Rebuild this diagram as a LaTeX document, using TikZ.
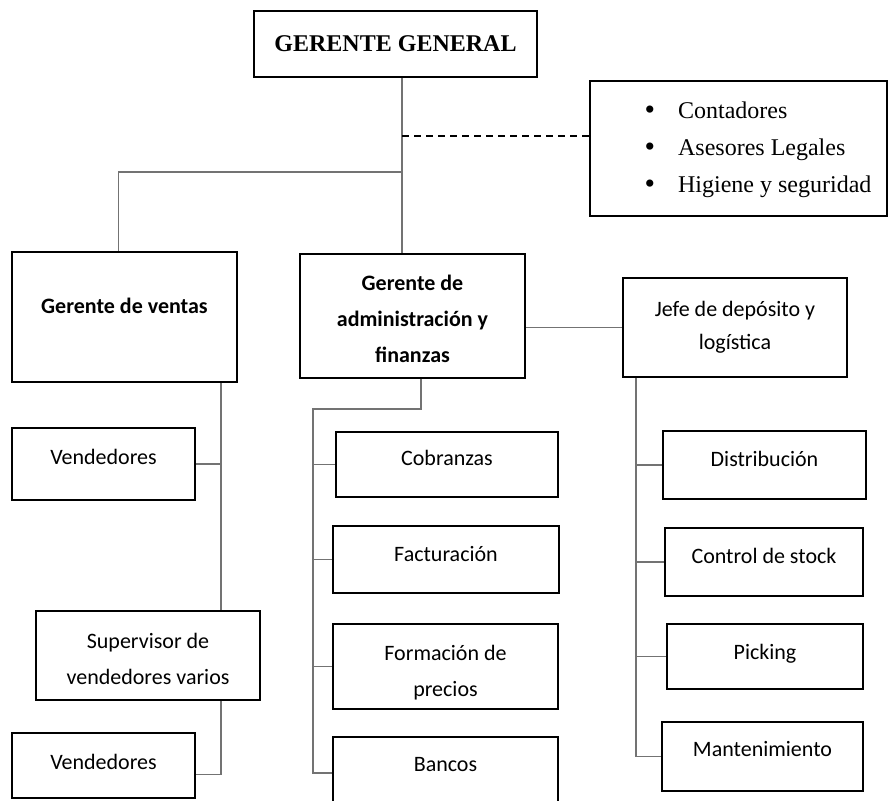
\documentclass[tikz,border=0pt]{standalone}
\usepackage{fontspec}
\setmainfont{Carlito}
\newfontfamily\timesfont{Liberation Serif}
\usetikzlibrary{calc}

\tikzset{
  unit/.style={draw, line width=1.5pt, align=center, inner sep=0pt, font=\fontsize{22}{36}\selectfont},
  head/.style={unit, font=\fontsize{22}{36}\selectfont\bfseries},
  lift/.style={text height=15pt, text depth=#1},
  link/.style={draw=black!55, line width=1.2pt},
}
\newcommand{\bigdot}{{\fontsize{30}{37}\selectfont\raisebox{-1pt}{\textbullet}}}

\begin{document}
\begin{tikzpicture}[x=1pt,y=-1pt]
  \clip (0,0) rectangle (890,800);
  % direccion
  \node[unit, minimum width=283, minimum height=66, font=\timesfont\fontsize{24}{30}\selectfont\bfseries] (gg) at (395.5,44) {GERENTE GENERAL};
  \node[draw, line width=1.5pt, inner sep=0pt, minimum width=297, minimum height=135, font=\timesfont\fontsize{24}{37}\selectfont] (staff) at (738.5,148.5)
    {\hspace*{39pt}\begin{tabular}{@{}c@{\hspace{23pt}}l@{}}\bigdot&Contadores\\\bigdot&Asesores Legales\\\bigdot&Higiene y seguridad\end{tabular}};
  \node[head, lift=23pt, minimum width=225, minimum height=130] (gv) at (124.5,317) {Gerente de ventas};
  \node[head, minimum width=225, minimum height=124] (ga) at (412.5,316) {\rule{0pt}{22pt}Gerente de\\administración y\\finanzas};
  \node[unit, minimum width=224, minimum height=99, font=\fontsize{22}{33}\selectfont] (jefe) at (735,327.5) {Jefe de depósito y\\logística};
  % ventas
  \node[unit, lift=15pt, minimum width=183, minimum height=72] (v1) at (103.5,464) {Vendedores};
  \node[unit, minimum width=224, minimum height=89] (sup) at (148,655.5) {\rule{0pt}{22pt}Supervisor de\\vendedores varios};
  \node[unit, lift=8pt, minimum width=183, minimum height=65] (v2) at (103.5,765.5) {Vendedores};
  % administracion
  \node[unit, lift=14pt, minimum width=222, minimum height=65] (cob) at (447,464.5) {Cobranzas};
  \node[unit, lift=12pt, minimum width=226, minimum height=67] (fac) at (446,559.5) {Facturación};
  \node[unit, minimum width=225, minimum height=85] (for) at (445.5,666.5) {\rule{0pt}{28pt}Formación de\\precios};
  \node[unit, lift=16pt, minimum width=225, minimum height=69] (ban) at (445.5,771.5) {Bancos};
  % deposito
  \node[unit, lift=13pt, minimum width=203, minimum height=68] (dist) at (764.5,465) {Distribución};
  \node[unit, lift=13pt, minimum width=198, minimum height=68] (ctrl) at (764,562) {Control de stock};
  \node[unit, lift=10pt, minimum width=196, minimum height=65] (pick) at (765,656.5) {Picking};
  \node[unit, lift=16pt, minimum width=201, minimum height=69] (mant) at (762.5,756.5) {Mantenimiento};

  \coordinate (trunk) at (402,172);
  \coordinate (staffjoin) at (402,136);
  \coordinate (vbus) at (221,0);
  \coordinate (gabus) at (313,409);
  \coordinate (jbus) at (636,0);

  \draw[link] (gg.south -| trunk) -- (ga.north -| trunk);
  \draw[link] (trunk) -| ([xshift=-6pt]gv.north);
  \draw[line width=1.3pt, dash pattern=on 7pt off 5pt] (staffjoin) -- (staffjoin -| staff.west);
  \draw[link] (jefe.west -| ga.east) -- (jefe.west);
  % ventas
  \draw[link] (gv.south -| vbus) -- (sup.north -| vbus);
  \draw[link] (v1.east) -- (v1.east -| vbus);
  \draw[link] (sup.south -| vbus) |- ([yshift=-9pt]v2.east);
  % administracion
  \draw[link] ([xshift=8.5pt]ga.south) |- (gabus) |- ([yshift=-1.5pt]ban.west);
  \foreach \n in {cob,fac,for}
    \draw[link] (gabus |- \n.west) -- (\n.west);
  % deposito
  \draw[link] (jefe.south -| jbus) |- (mant.west);
  \foreach \n in {dist,ctrl,pick}
    \draw[link] (jbus |- \n.west) -- (\n.west);
\end{tikzpicture}
\end{document}
